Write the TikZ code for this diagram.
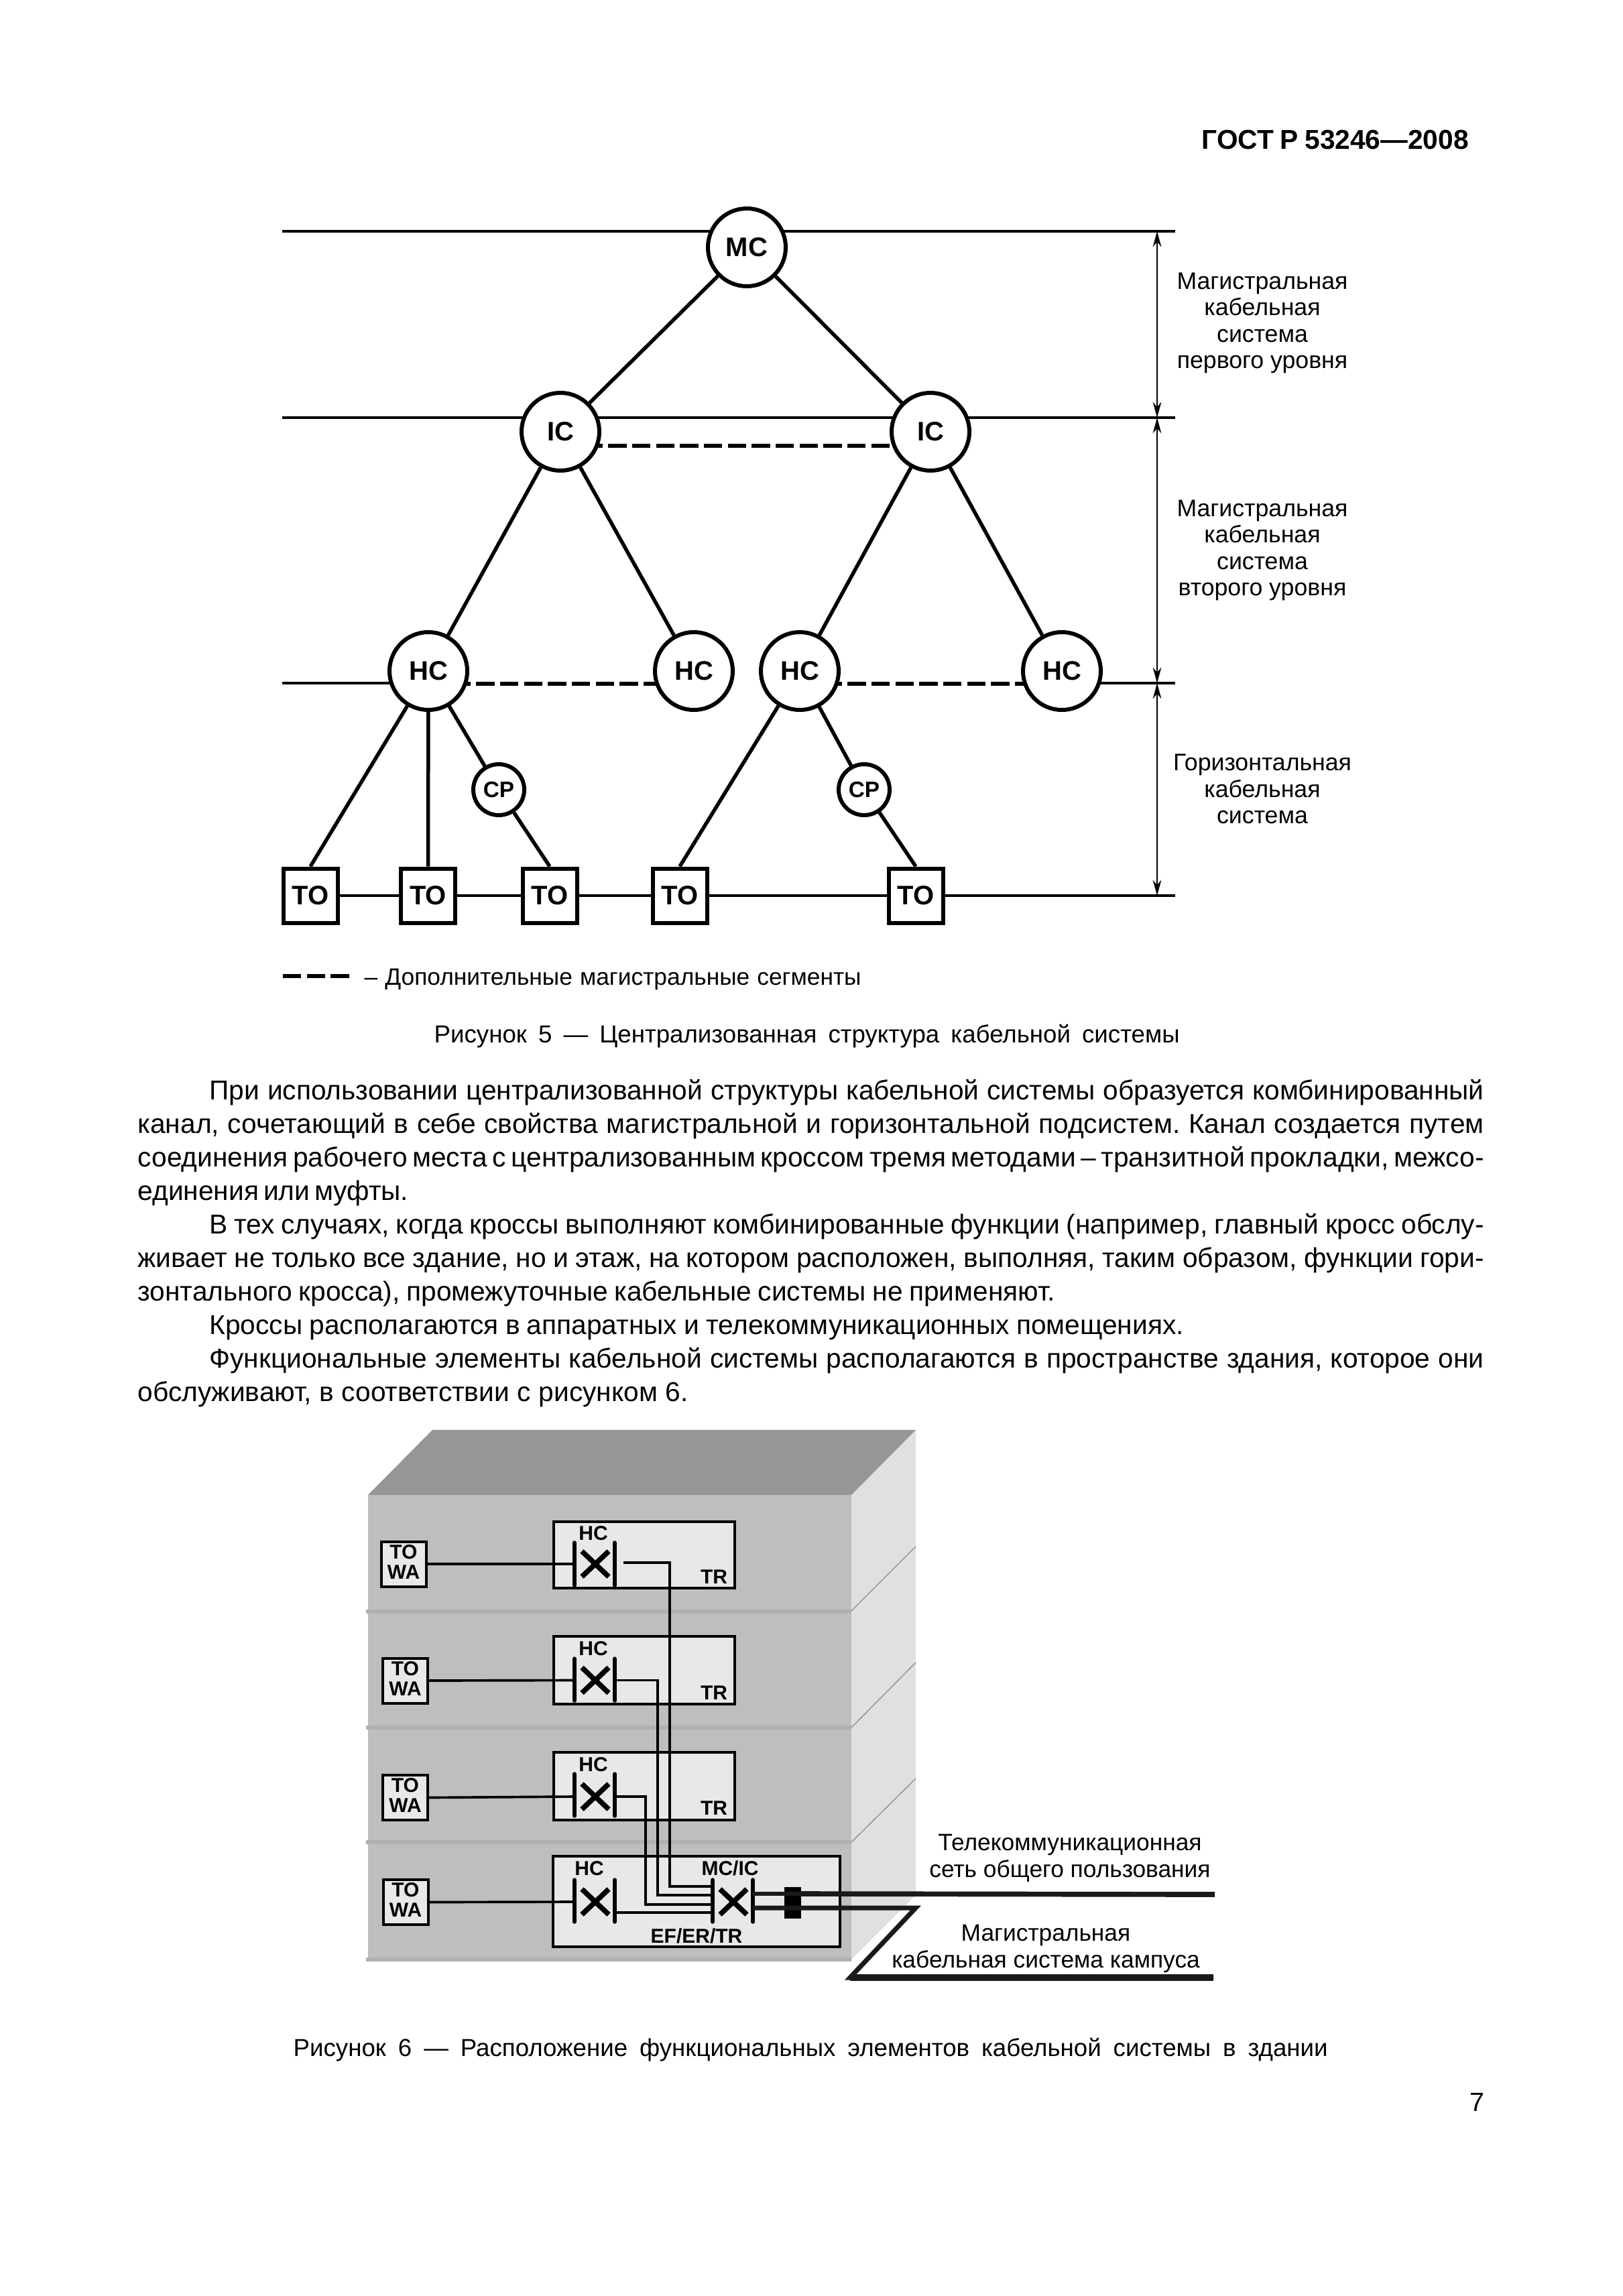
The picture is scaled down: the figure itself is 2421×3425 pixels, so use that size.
\documentclass[tikz,border=0pt]{standalone}
\usepackage{fontspec}
\setmainfont{Liberation Sans}
\usetikzlibrary{arrows.meta,backgrounds}
\newdimen\pxu \pxu=0.3pt
\newcommand{\fs}[1]{\fontsize{#1pt}{#1pt}\selectfont}
\newcommand{\tight}{\frenchspacing\spaceskip=0.17em plus 1fil\relax}
\newcommand{\jline}[5]{\node[inner sep=0pt,anchor=base west,font=\fs{12.2}] (#1) at (#2,#3) {\hbox to #4\pxu{\tight #5}};}
\tikzset{
 xring/.style={circle,draw=black,fill=white,line width=1.8pt,minimum size=34.8pt,inner sep=0pt,font=\bfseries\fs{12}},
 cpring/.style={circle,draw=black,fill=white,line width=1.8pt,minimum size=22.8pt,inner sep=0pt,font=\bfseries\fs{10}},
 tobox/.style={rectangle,draw=black,fill=white,line width=1.8pt,minimum width=24.3pt,minimum height=24.3pt,inner sep=0pt,font=\bfseries\fs{12}},
 conn/.style={line width=1.65pt,black},
 hline/.style={line width=1.35pt,black},
 dashl/.style={line width=1.9pt,black,dash pattern=on 8.2pt off 2.5pt},
 dimarrow/.style={line width=0.7pt,black,{Stealth[length=7pt,width=3.8pt]}-{Stealth[length=7pt,width=3.8pt]}},
 lab/.style={inner sep=0pt,font=\fontsize{10.7pt}{11.85pt}\selectfont,align=center},
 lablow/.style={inner sep=0pt,font=\fontsize{10.6pt}{11.9pt}\selectfont,align=center},
 small/.style={inner sep=0pt,font=\bfseries\fs{9}},
 towa/.style={rectangle,draw=black,fill=boxgray,line width=1.2pt,minimum width=20.1pt,minimum height=20.1pt,inner sep=0pt},
 towatxt/.style={inner sep=0pt,align=center,font=\bfseries\fontsize{9pt}{9pt}\selectfont},
 trbox/.style={draw=black,fill=boxgray,line width=1.2pt},
 bar/.style={line width=1.6pt,black,line cap=round},
 xmark/.style={line width=2.3pt,black},
 wire/.style={line width=1.1pt,black},
 floorline/.style={line width=1.8pt,sepgray},
 sideline/.style={line width=0.4pt,gray!90},
 cable/.style={line width=2.1pt,cablegray},
}
\definecolor{boxgray}{HTML}{E8E8E8}
\definecolor{frontgray}{HTML}{BEBEBE}
\definecolor{sepgray}{HTML}{B0B0B0}
\definecolor{sidegray}{HTML}{E0E0E0}
\definecolor{roofgray}{HTML}{969696}
\definecolor{cablegray}{HTML}{1A1A1A}
\begin{document}
\begin{tikzpicture}[x=0.3pt,y=-0.3pt]
\useasboundingbox (0,0) rectangle (2421,3425);
\begin{scope}[on background layer]
\fill[white] (0,0) rectangle (2421,3425);
\end{scope}
% header
\node[inner sep=0pt,anchor=base west,font=\bfseries\fs{12.2}] (head) at (1792,223) {\hbox to 398\pxu{\spaceskip=0.2em plus 1fil\relax ГОСТ Р 53246—2008}};
% upper figure nodes
\node[xring] (mc) at (1114,369) {MC};
\node[xring] (ic1) at (836,644) {IC};
\node[xring] (ic2) at (1388,644) {IC};
\node[xring] (hc1) at (639,1001) {HC};
\node[xring] (hc2) at (1035,1001) {HC};
\node[xring] (hc3) at (1193,1001) {HC};
\node[xring] (hc4) at (1584,1001) {HC};
\node[cpring] (cp1) at (744,1178) {CP};
\node[cpring] (cp2) at (1289,1178) {CP};
\node[tobox] (to1) at (463,1336) {TO};
\node[tobox] (to2) at (638.5,1336) {TO};
\node[tobox] (to3) at (820,1336) {TO};
\node[tobox] (to4) at (1014,1336) {TO};
\node[tobox] (to5) at (1366,1336) {TO};
\coordinate (l1a) at (421,345); \coordinate (l1b) at (1753,345);
\coordinate (l2a) at (421,623); \coordinate (l2b) at (1753,623);
\coordinate (l3a) at (421,1019); \coordinate (l3b) at (1753,1019);
\coordinate (l4b) at (1753,1336);
\coordinate (dy1) at (0,665); \coordinate (dy2) at (0,1020);
\coordinate (d0) at (1726,345); \coordinate (d1) at (1726,623); \coordinate (d2) at (1726,1019); \coordinate (d3) at (1726,1336);
\begin{scope}[on background layer]
\draw[hline] (l1a) -- (l1b);
\draw[hline] (l2a) -- (l2b);
\draw[hline] (l3a) -- (hc1 |- l3a);
\draw[hline] (hc4 |- l3b) -- (l3b);
\draw[hline] (to1) -- (l4b);
\draw[dashl] (ic1 |- dy1) -- (ic2 |- dy1);
\draw[dashl] (hc1 |- dy2) -- (hc2 |- dy2);
\draw[dashl] (hc3 |- dy2) -- (hc4 |- dy2);
\end{scope}
\draw[conn] (mc) -- (ic1);
\draw[conn] (mc) -- (ic2);
\draw[conn] (ic1) -- (hc1);
\draw[conn] (ic1) -- (hc2);
\draw[conn] (ic2) -- (hc3);
\draw[conn] (ic2) -- (hc4);
\draw[conn] (hc1) -- (to1.north);
\draw[conn] (hc1) -- (to2.north);
\draw[conn] (hc1) -- (cp1);
\draw[conn] (cp1) -- (to3.north);
\draw[conn] (hc3) -- (to4.north);
\draw[conn] (hc3) -- (cp2);
\draw[conn] (cp2) -- (to5.north);
\draw[dimarrow] (d0) -- (d1);
\draw[dimarrow] (d1) -- (d2);
\draw[dimarrow] (d2) -- (d3);
\node[lab] (t1) at (1883,482) {Магистральная\\кабельная\\система\\первого уровня};
\node[lab] (t2) at (1883,821) {Магистральная\\кабельная\\система\\второго уровня};
\node[lab] (t3) at (1883,1177) {Горизонтальная\\кабельная\\система};
% legend
\coordinate (lega) at (422,1456); \coordinate (legb) at (528,1456);
\draw[dashl] (lega) -- (legb);
\node[inner sep=0pt,anchor=base west,font=\fs{10.6}] (legt) at (543,1469) {\hbox to 741\pxu{\spaceskip=0.2em plus 1fil\relax – Дополнительные магистральные сегменты}};
\node[inner sep=0pt,anchor=base west,font=\fs{11}] (cap5) at (647,1555) {\hbox to 1112\pxu{Рисунок 5 — Централизованная структура кабельной системы}};
% body text
\jline{b1}{312}{1640}{1901}{При использовании централизованной структуры кабельной системы образуется комбинированный}
\jline{b2}{205}{1690}{2008}{канал, сочетающий в себе свойства магистральной и горизонтальной подсистем. Канал создается путем}
\jline{b3}{205}{1740}{2008}{соединения рабочего места с централизованным кроссом тремя методами – транзитной прокладки, межсо-}
\jline{b4}{205}{1790}{402}{единения или муфты.}
\jline{b5}{312}{1840}{1901}{В тех случаях, когда кроссы выполняют комбинированные функции (например, главный кросс обслу-}
\jline{b6}{205}{1890}{2008}{живает не только все здание, но и этаж, на котором расположен, выполняя, таким образом, функции гори-}
\jline{b7}{205}{1940}{1368}{зонтального кросса), промежуточные кабельные системы не применяют.}
\jline{b8}{312}{1990}{1453}{Кроссы располагаются в аппаратных и телекоммуникационных помещениях.}
\jline{b9}{312}{2040}{1901}{Функциональные элементы кабельной системы располагаются в пространстве здания, которое они}
\jline{b10}{205}{2090}{821}{обслуживают, в соответствии с рисунком 6.}
% building
\fill[sidegray] (1270,2230) -- (1366,2133) -- (1366,2827) -- (1270,2923) -- cycle;
\fill[roofgray] (549,2230) -- (645,2133) -- (1366,2133) -- (1270,2230) -- cycle;
\fill[frontgray] (549,2230) rectangle (1270,2923);
\draw[floorline] (546,2404) -- (1270,2404);
\draw[floorline] (546,2577) -- (1270,2577);
\draw[floorline] (546,2748) -- (1270,2748);
\draw[floorline] (546,2923) -- (1270,2923);
\draw[sideline] (1270,2403) -- (1366,2307);
\draw[sideline] (1270,2577) -- (1366,2480);
\draw[sideline] (1270,2748) -- (1366,2653);
% boxes
\draw[trbox] (826,2270) rectangle (1096,2369);
\draw[trbox] (826,2441) rectangle (1096,2542);
\draw[trbox] (826,2614) rectangle (1096,2715);
\draw[trbox] (825,2769) rectangle (1253,2904);
\node[towa] (tw1) at (602,2333) {};
\node[towa] (tw2) at (604.5,2507) {};
\node[towa] (tw3) at (604.5,2681.5) {};
\node[towa] (tw4) at (605,2837.5) {};
\node[towatxt] (twt1) at ([yshift=1pt]tw1) {TO\\WA};
\node[towatxt] (twt2) at ([yshift=1pt]tw2) {TO\\WA};
\node[towatxt] (twt3) at ([yshift=1pt]tw3) {TO\\WA};
\node[towatxt] (twt4) at ([yshift=1pt]tw4) {TO\\WA};
% labels
\node[small] (h1) at (885,2287) {HC};
\node[small] (h2) at (885,2459) {HC};
\node[small] (h3) at (885,2632) {HC};
\node[small] (h4) at (879,2787) {HC};
\node[small] (tr1) at (1065,2352) {TR};
\node[small] (tr2) at (1065,2525) {TR};
\node[small] (tr3) at (1065,2697) {TR};
\node[small] (mi) at (1089,2787) {MC/IC};
\node[small] (ef) at (1039,2888) {EF/ER/TR};
% cross-connect coordinates
\foreach \n/\y/\ytop/\ybot in {1/2333/2301/2365,2/2506.5/2474/2537,3/2680/2646/2709,4/2837/2804/2867}{
 \coordinate (L\n) at (857,\y);
 \coordinate (R\n) at (917,\y);
 \draw[bar] (857,\ytop) -- (857,\ybot);
 \draw[bar] (917,\ytop) -- (917,\ybot);
 \draw[xmark] (868,\y-19) -- (908,\y+19);
 \draw[xmark] (908,\y-19) -- (868,\y+19);
}
\coordinate (M) at (1063,2837); \coordinate (N) at (1123,2837);
\draw[bar] (1063,2804) -- (1063,2867);
\draw[bar] (1123,2804) -- (1123,2867);
\draw[xmark] (1074,2818) -- (1114,2856);
\draw[xmark] (1114,2818) -- (1074,2856);
% wires
\draw[wire] (tw1.east) -- (L1);
\draw[wire] (tw2.east) -- (L2);
\draw[wire] (tw3.east) -- (L3);
\draw[wire] (tw4.east) -- (L4);
\coordinate (w1) at (999,2814); \coordinate (w2) at (981,2827); \coordinate (w3) at (963,2841); \coordinate (w4) at (917,2853);
\draw[wire] (930,2331) -| (w1) -- (M |- w1);
\draw[wire] (R2) -| (w2) -- (M |- w2);
\draw[wire] (R3) -| (w3) -- (M |- w3);
\draw[wire] (w4) -- (M |- w4);
% outer cables
\fill[black] (1170,2815) rectangle (1195,2862);
\coordinate (c1) at (1123,2825); \coordinate (c2) at (1192,2825); \coordinate (c3) at (1812,2826);
\draw[line width=1.6pt,cablegray] (c1) -- (c2);
\draw[cable,line width=2.3pt] (c2) -- (c3);
\coordinate (e1) at (1123,2846); \coordinate (e2) at (1366,2846); \coordinate (e3) at (1268,2950); \coordinate (e4) at (1810,2950);
\draw[cable] (e1) -- (e2) -- (e3) -- (e4);
\draw[cable,line width=2.8pt] (e3) -- (e4);
\node[lablow] (tk) at (1596,2772) {Телекоммуникационная\\сеть общего пользования};
\node[lablow] (mk) at (1560,2907) {Магистральная\\кабельная система кампуса};
\node[inner sep=0pt,anchor=base west,font=\fs{11}] (cap6) at (437,3067) {\hbox to 1543\pxu{Рисунок 6 — Расположение функциональных элементов кабельной системы в здании}};
\node[inner sep=0pt,font=\fs{11.8}] (pg) at (2203,3136) {7};
\end{tikzpicture}
\end{document}
